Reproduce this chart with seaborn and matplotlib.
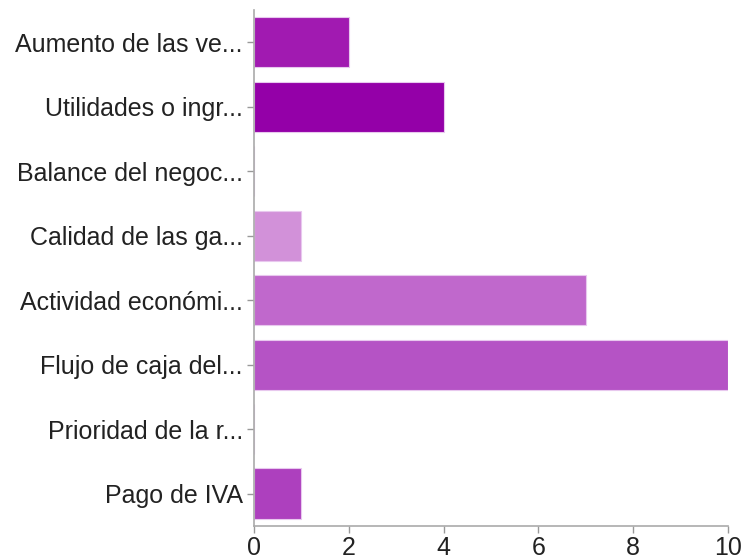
import matplotlib
matplotlib.use("Agg")
import pandas as pd
import seaborn as sns
from matplotlib import pyplot as plt

categories = [
    "Aumento de las ve...",
    "Utilidades o ingr...",
    "Balance del negoc...",
    "Calidad de las ga...",
    "Actividad económi...",
    "Flujo de caja del...",
    "Prioridad de la r...",
    "Pago de IVA",
]
counts = [2, 4, 0, 1, 7, 10, 0, 1]
bar_colors = ["#a11ab1", "#9400a8", "#ffffff", "#d291d9",
              "#c068cc", "#b553c5", "#ffffff", "#ad40be"]
x_ticks = [0, 2, 4, 6, 8, 10]

df = pd.DataFrame({"category": categories, "count": counts})

sns.set_style("white")
plt.rcParams["font.family"] = ["Liberation Sans", "DejaVu Sans"]

fig = plt.figure(figsize=(7.45, 5.6), dpi=100)
ax = fig.add_axes([0.341, 0.061, 0.636, 0.921])

sns.barplot(data=df, x="count", y="category", hue="category",
            palette=bar_colors, legend=False, width=0.78, saturation=1,
            edgecolor="#e8c8ee", linewidth=0.8, ax=ax)

ax.set_xlim(0, 10)
ax.set_xticks(x_ticks)
ax.set_xlabel("")
ax.set_ylabel("")
for s in ["top", "right"]:
    ax.spines[s].set_visible(False)
for s in ["left", "bottom"]:
    ax.spines[s].set_color("#aaaaaa")
    ax.spines[s].set_linewidth(1.2)
ax.tick_params(axis="both", left=True, bottom=True, colors="#999999",
               length=5, width=1, labelcolor="#222222", labelsize=18)
ax.tick_params(axis="y", pad=3)
ax.tick_params(axis="x", pad=2)

fig.savefig("out.png", dpi=100)
